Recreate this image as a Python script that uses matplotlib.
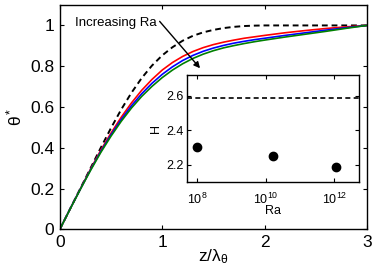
import matplotlib
matplotlib.use("Agg")
import matplotlib.pyplot as plt

plt.rcParams["font.family"] = ["Liberation Sans", "DejaVu Sans"]
plt.rcParams["mathtext.fontset"] = "custom"
plt.rcParams["mathtext.rm"] = "Liberation Sans"
plt.rcParams["mathtext.it"] = "Liberation Sans"
plt.rcParams["mathtext.default"] = "regular"

# main panel: temperature profiles
z = [0, 0.1, 0.2, 0.3, 0.4, 0.5, 0.6, 0.7, 0.8, 0.9, 1.0, 1.1, 1.2, 1.3, 1.4,
     1.5, 1.6, 1.7, 1.8, 1.9, 2.0, 2.2, 2.4, 2.6, 2.8, 3.0]
theta_ref = [0, 0.1, 0.2, 0.3, 0.4, 0.497, 0.588, 0.67, 0.742, 0.803, 0.853, 0.893,
             0.925, 0.949, 0.966, 0.978, 0.987, 0.993, 0.997, 0.999, 1.0, 1.0, 1.0,
             1.0, 1.0, 1.0]
theta_red = [0, 0.1, 0.198, 0.295, 0.388, 0.472, 0.55, 0.62, 0.682, 0.735, 0.781,
             0.818, 0.848, 0.872, 0.891, 0.906, 0.918, 0.928, 0.937, 0.944, 0.951,
             0.964, 0.975, 0.985, 0.993, 1.0]
theta_blue = [0, 0.1, 0.197, 0.292, 0.382, 0.464, 0.539, 0.606, 0.665, 0.716, 0.76,
              0.797, 0.828, 0.853, 0.873, 0.889, 0.902, 0.913, 0.922, 0.93, 0.937,
              0.951, 0.964, 0.977, 0.989, 1.0]
theta_green = [0, 0.099, 0.196, 0.289, 0.377, 0.457, 0.53, 0.595, 0.652, 0.701, 0.744,
               0.781, 0.812, 0.838, 0.859, 0.876, 0.89, 0.901, 0.911, 0.92, 0.928,
               0.943, 0.957, 0.971, 0.986, 1.0]

# inset: H versus Ra
Ra = [1e8, 1.6e10, 1.1e12]
H = [2.303, 2.248, 2.186]
H_ref = 2.59

fig = plt.figure(figsize=(3.74, 2.80), dpi=100)
ax = fig.add_axes([0.160, 0.181, 0.821, 0.801])
ax.plot(z, theta_ref, "k--", lw=1.4, dashes=(3, 2))
ax.plot(z, theta_red, color="red", lw=1.2)
ax.plot(z, theta_blue, color="blue", lw=1.2)
ax.plot(z, theta_green, color=(0, 0.5, 0), lw=1.2)
ax.set_xlim(0, 3)
ax.set_ylim(0, 1.1)
ax.set_xticks([0, 1, 2, 3])
ax.set_yticks([0, 0.2, 0.4, 0.6, 0.8, 1])
ax.set_yticklabels(["0", "0.2", "0.4", "0.6", "0.8", "1"])
ax.tick_params(direction="in", top=True, right=True, labelsize=12.5, length=3, pad=4)
ax.set_xlabel(r"z/λ$_θ$", fontsize=12.5, labelpad=-2)
ax.set_ylabel(r"θ$^*$", fontsize=12.5, labelpad=4)
ax.text(0.15, 1.013, "Increasing Ra", fontsize=9.5, va="center")
ax.annotate("", xy=(1.37, 0.79), xytext=(0.975, 1.02),
            arrowprops=dict(arrowstyle="-|>", color="k", lw=1, shrinkA=0, shrinkB=0,
                            mutation_scale=9))

ins = fig.add_axes([0.5013, 0.351, 0.4586, 0.380])
ins.set_xscale("log")
ins.axhline(H_ref, color="k", ls="--", lw=1.2, dashes=(3, 2))
ins.plot(Ra, H, "o", color="k", ms=6)
ins.set_xlim(10**7.71, 10**12.72)
ins.set_ylim(2.1, 2.72)
ins.set_xticks([1e8, 1e10, 1e12])
ins.set_xticklabels([r"10$^{8}$", r"10$^{10}$", r"10$^{12}$"])
ins.minorticks_off()
ins.set_yticks([2.2, 2.4, 2.6])
ins.tick_params(direction="in", top=True, right=True, labelsize=9, length=3, pad=3)
ins.tick_params(axis="x", pad=7)
ins.set_xlabel("Ra", fontsize=9, labelpad=-1)
ins.set_ylabel("H", fontsize=9, labelpad=3)
for a in (ax, ins):
    for s in a.spines.values():
        s.set_linewidth(1.0)

fig.savefig("out.png", dpi=100)
